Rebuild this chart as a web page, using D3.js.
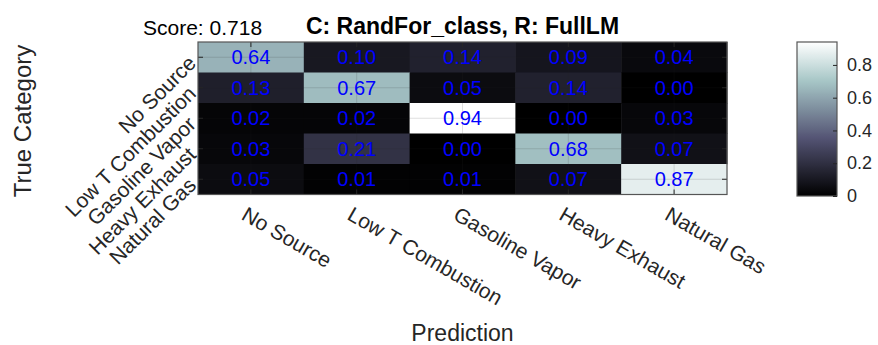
<!DOCTYPE html>
<html>
<head>
<meta charset="utf-8">
<script src="https://cdn.jsdelivr.net/npm/d3@7"></script>
<style>
  body { margin: 0; background: #fff; }
  svg text { font-family: "Liberation Sans", Arial, Helvetica, sans-serif; }
</style>
</head>
<body>
<svg id="chart" width="878" height="345"></svg>
<script>
// confusion matrix: rows = true category, columns = prediction
const categories = ["No Source", "Low T Combustion", "Gasoline Vapor", "Heavy Exhaust", "Natural Gas"];
const row1 = [0.64, 0.10, 0.14, 0.09, 0.04];
const row2 = [0.13, 0.67, 0.05, 0.14, 0.00];
const row3 = [0.02, 0.02, 0.94, 0.00, 0.03];
const row4 = [0.03, 0.21, 0.00, 0.68, 0.07];
const row5 = [0.05, 0.01, 0.01, 0.07, 0.87];
const rows = [row1, row2, row3, row4, row5];
const colorbarTicks = [0, 0.2, 0.4, 0.6, 0.8];
const score = "0.718";
const title = "C: RandFor_class, R: FullLM";

const svg = d3.select("#chart");
const AX = { left: 198, right: 727, top: 42, bottom: 194.5 };
const CB = { left: 797, right: 837, top: 42, bottom: 196 };
const axisCol = "#262626";

// MATLAB "bone" colormap
function bone(t) {
  t = Math.max(0, Math.min(1, t));
  const cl = v => Math.max(0, Math.min(1, v));
  const hr = cl(t / 0.375), hg = cl((t - 0.375) / 0.375), hb = cl((t - 0.75) / 0.25);
  const r = (7 * t + hb) / 8, g = (7 * t + hg) / 8, b = (7 * t + hr) / 8;
  return d3.rgb(r * 255, g * 255, b * 255).toString();
}

const cells = [];
rows.forEach((r, i) => r.forEach((v, j) => cells.push({ row: categories[i], col: categories[j], v })));
const vmax = d3.max(cells, d => d.v);
const vmin = d3.min(cells, d => d.v);
const color = v => bone((v - vmin) / (vmax - vmin));

const x = d3.scaleBand().domain(categories).range([AX.left, AX.right]);
const y = d3.scaleBand().domain(categories).range([AX.top, AX.bottom]);

// cells
svg.append("g").selectAll("rect").data(cells).enter().append("rect")
  .attr("x", d => x(d.col)).attr("y", d => y(d.row))
  .attr("width", x.bandwidth() + 0.5).attr("height", y.bandwidth() + 0.5)
  .attr("fill", d => color(d.v));

// grid lines (at tick positions, on top)
const grid = svg.append("g").attr("stroke", axisCol).attr("stroke-opacity", 0.15).attr("stroke-width", 1);
categories.forEach(c => {
  const cx = x(c) + x.bandwidth() / 2, cy = y(c) + y.bandwidth() / 2;
  grid.append("line").attr("x1", cx).attr("x2", cx).attr("y1", AX.top).attr("y2", AX.bottom);
  grid.append("line").attr("y1", cy).attr("y2", cy).attr("x1", AX.left).attr("x2", AX.right);
});

// values
svg.append("g").selectAll("text").data(cells).enter().append("text")
  .attr("x", d => x(d.col) + x.bandwidth() / 2)
  .attr("y", d => y(d.row) + y.bandwidth() / 2)
  .attr("text-anchor", "middle").attr("dominant-baseline", "central")
  .attr("fill", "#0000ff").style("font-size", "20px")
  .text(d => d.v.toFixed(2));

// ticks (inward) and frame
const ticks = svg.append("g").attr("stroke", axisCol).attr("stroke-width", 1);
categories.forEach(c => {
  const cx = x(c) + x.bandwidth() / 2, cy = y(c) + y.bandwidth() / 2;
  ticks.append("line").attr("x1", cx).attr("x2", cx).attr("y1", AX.top).attr("y2", AX.top + 5);
  ticks.append("line").attr("x1", cx).attr("x2", cx).attr("y1", AX.bottom).attr("y2", AX.bottom - 5);
  ticks.append("line").attr("y1", cy).attr("y2", cy).attr("x1", AX.left).attr("x2", AX.left + 5);
  ticks.append("line").attr("y1", cy).attr("y2", cy).attr("x1", AX.right).attr("x2", AX.right - 5);
});
svg.append("rect").attr("x", AX.left).attr("y", AX.top)
  .attr("width", AX.right - AX.left).attr("height", AX.bottom - AX.top)
  .attr("fill", "none").attr("stroke", "#555").attr("stroke-width", 1.2);

// x tick labels
svg.append("g").selectAll("text").data(categories).enter().append("text")
  .attr("transform", d => `translate(${x(d) + x.bandwidth() / 2 - 3},${AX.bottom + 11}) rotate(30)`)
  .attr("text-anchor", "start").attr("dominant-baseline", "hanging")
  .attr("fill", axisCol).style("font-size", "21px")
  .text(d => d);

// y tick labels
svg.append("g").selectAll("text").data(categories).enter().append("text")
  .attr("transform", d => `translate(${AX.left - 6},${y(d) + y.bandwidth() / 2 + 2}) rotate(-45)`)
  .attr("text-anchor", "end").attr("dominant-baseline", "central")
  .attr("fill", axisCol).style("font-size", "21px")
  .text(d => d);

// axis labels
svg.append("text").attr("x", (AX.left + AX.right) / 2).attr("y", 341)
  .attr("text-anchor", "middle").attr("fill", axisCol).style("font-size", "23px")
  .text("Prediction");
svg.append("text").attr("transform", `translate(31,121) rotate(-90)`)
  .attr("text-anchor", "middle").attr("fill", axisCol).style("font-size", "24px")
  .text("True Category");

// title + score
svg.append("text").attr("x", (AX.left + AX.right) / 2).attr("y", 34)
  .attr("text-anchor", "middle").attr("fill", "#000").style("font-size", "23px").style("font-weight", "bold")
  .text(title);
svg.append("text").attr("x", 143).attr("y", 35)
  .attr("fill", "#000").style("font-size", "21px")
  .text("Score: " + score);

// colorbar
const cbScale = d3.scaleLinear().domain([vmin, vmax]).range([CB.bottom, CB.top]);
const defs = svg.append("defs");
const grad = defs.append("linearGradient").attr("id", "cbgrad")
  .attr("x1", 0).attr("y1", 1).attr("x2", 0).attr("y2", 0);
d3.range(0, 1.0001, 0.02).forEach(t => grad.append("stop").attr("offset", t).attr("stop-color", bone(t)));
svg.append("rect").attr("x", CB.left).attr("y", CB.top)
  .attr("width", CB.right - CB.left).attr("height", CB.bottom - CB.top)
  .attr("fill", "url(#cbgrad)").attr("stroke", "#555").attr("stroke-width", 1.2);
const cbAxis = d3.axisRight(cbScale).tickValues(colorbarTicks).tickSize(-4).tickPadding(10)
  .tickFormat(d => d === 0 ? "0" : d3.format(".1f")(d));
const cbg = svg.append("g").attr("transform", `translate(${CB.right},0)`).call(cbAxis);
cbg.select(".domain").remove();
cbg.selectAll(".tick line").attr("stroke", axisCol);
cbg.selectAll(".tick text").attr("fill", axisCol).style("font-size", "18px")
  .style("font-family", "'Liberation Sans', Arial, Helvetica, sans-serif");
</script>
</body>
</html>
